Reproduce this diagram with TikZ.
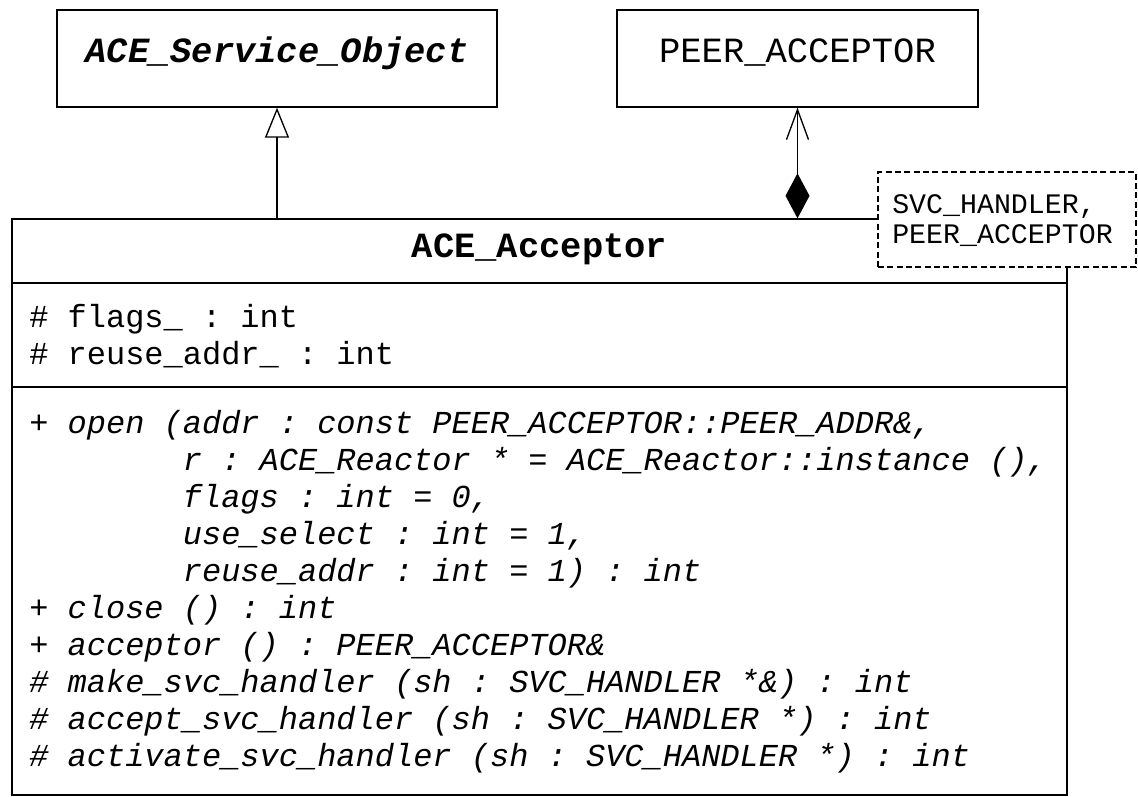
\documentclass[tikz,border=0pt]{standalone}
\usepackage{fontspec}
\setmonofont{Liberation Mono}
\usetikzlibrary{arrows.meta}
\tikzset{
  x=0.75pt, y=-0.75pt,
  outline/.style={draw=black, line width=1pt, inner sep=0pt},
  ttl/.style={font=\ttfamily\fontsize{26.6}{32}\selectfont, text height=0.62em, text depth=0pt},
  attr/.style={font=\ttfamily\fontsize{24}{28}\selectfont, anchor=base west, inner sep=0pt},
  meth/.style={font=\ttfamily\itshape\fontsize{24}{28}\selectfont, anchor=base west, inner sep=0pt},
  tparam/.style={font=\ttfamily\fontsize{21.2}{26}\selectfont, anchor=base west, inner sep=0pt},
  sep/.style={draw=black, line width=1pt},
  tmplbox/.style={outline, dash pattern=on 4.5pt off 2.5pt, fill=white},
  inherit/.style={line width=1pt, -{Triangle[open, length=22.5pt, width=18pt]}},
  compose/.style={line width=1pt, {Diamond[length=33.75pt, width=18pt]}-{Straight Barb[length=22.5pt, width=16.5pt]}}
}
\begin{document}
\begin{tikzpicture}
\useasboundingbox (0,0) rectangle (1138,796);
% top classes
\node[outline, ttl, minimum width=440*0.75pt, minimum height=97*0.75pt] (svc) at (277,58.5) {\bfseries\itshape ACE\_Service\_Object};
\node[outline, ttl, minimum width=361*0.75pt, minimum height=97*0.75pt] (peer) at (797.5,58.5) {PEER\_ACCEPTOR};
% main class
\node[outline, minimum width=1055*0.75pt, minimum height=576*0.75pt] (acc) at (539.5,507) {};
\node[ttl, inner sep=0pt] (accname) at (539.5,253) {\bfseries ACE\_Acceptor};
\coordinate (s1l) at (12,283); \coordinate (s1r) at (1067,283);
\coordinate (s2l) at (12,387); \coordinate (s2r) at (1067,387);
\draw[sep] (s1l) -- (s1r);
\draw[sep] (s2l) -- (s2r);
% attributes
\node[attr] (a1) at (29,327) {\# flags\_ : int};
\node[attr] (a2) at (29,364) {\# reuse\_addr\_ : int};
% operations
\node[meth] (m1) at (29,433) {+ open (addr : const PEER\_ACCEPTOR::PEER\_ADDR\&,};
\node[meth] (m2) at (29,470) {\hphantom{+ open (}r : ACE\_Reactor * = ACE\_Reactor::instance (),};
\node[meth] (m3) at (29,507) {\hphantom{+ open (}flags : int = 0,};
\node[meth] (m4) at (29,544) {\hphantom{+ open (}use\_select : int = 1,};
\node[meth] (m5) at (29,581) {\hphantom{+ open (}reuse\_addr : int = 1) : int};
\node[meth] (m6) at (29,618) {+ close () : int};
\node[meth] (m7) at (29,655) {+ acceptor () : PEER\_ACCEPTOR\&};
\node[meth] (m8) at (29,692) {\# make\_svc\_handler (sh : SVC\_HANDLER *\&) : int};
\node[meth] (m9) at (29,729) {\# accept\_svc\_handler (sh : SVC\_HANDLER *) : int};
\node[meth] (m10) at (29,766) {\# activate\_svc\_handler (sh : SVC\_HANDLER *) : int};
% template parameter box
\node[tmplbox, minimum width=258*0.75pt, minimum height=95*0.75pt] (tmpl) at (1007,219.5) {};
\node[tparam] (t1) at (892,213.5) {SVC\_HANDLER,};
\node[tparam] (t2) at (892,243.5) {PEER\_ACCEPTOR};
% connectors
\draw[inherit] (svc.south |- acc.north) -- (svc.south);
\draw[compose] (peer.south |- acc.north) -- (peer.south);
\end{tikzpicture}
\end{document}
